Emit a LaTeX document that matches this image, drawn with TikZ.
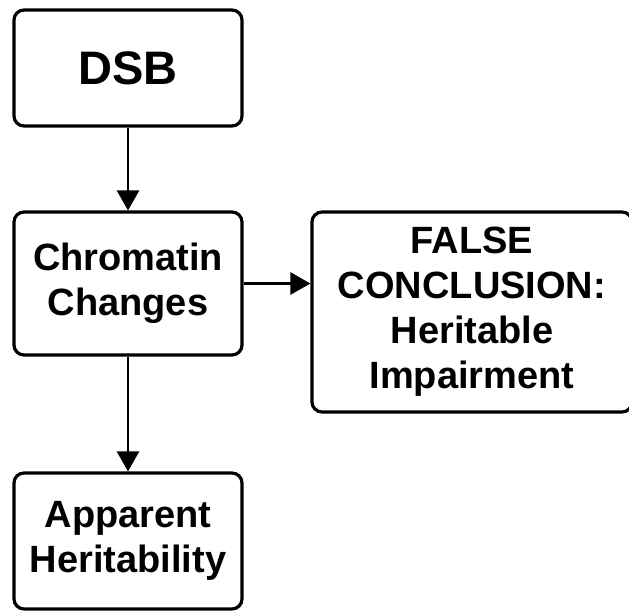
\documentclass[tikz,border=0pt]{standalone}
\usepackage{fontspec}
\setmainfont{Liberation Sans}
\usetikzlibrary{arrows.meta}

\begin{document}
\begin{tikzpicture}[x=1pt,y=-1pt,
  box/.style={draw,line width=3.2pt,rounded corners=10pt,align=center,
    font=\fontsize{38}{45}\selectfont\bfseries,inner sep=0pt},
  arr/.style={line width=2.8pt,-{Triangle[width=22pt,length=20pt]}}]
\useasboundingbox (0,0) rectangle (629,611);
%boxes
\node[box,minimum width=228,minimum height=116,font=\fontsize{47}{50}\selectfont\bfseries] (dsb) at (128,68) {DSB};
\node[box,minimum width=228,minimum height=143] (chrom) at (128,283.5) {Chromatin\\Changes};
\node[box,minimum width=228,minimum height=136] (app) at (128,541) {Apparent\\Heritability};
\node[box,minimum width=320,minimum height=200] (concl) at (472,312) {FALSE\\CONCLUSION:\\Heritable\\Impairment};
%arrows
\draw[arr] (dsb.south)--(chrom.north);
\draw[arr] (chrom.east)--(chrom.east -| concl.west);
\draw[arr] (chrom.south)--(app.north);
\end{tikzpicture}
\end{document}
